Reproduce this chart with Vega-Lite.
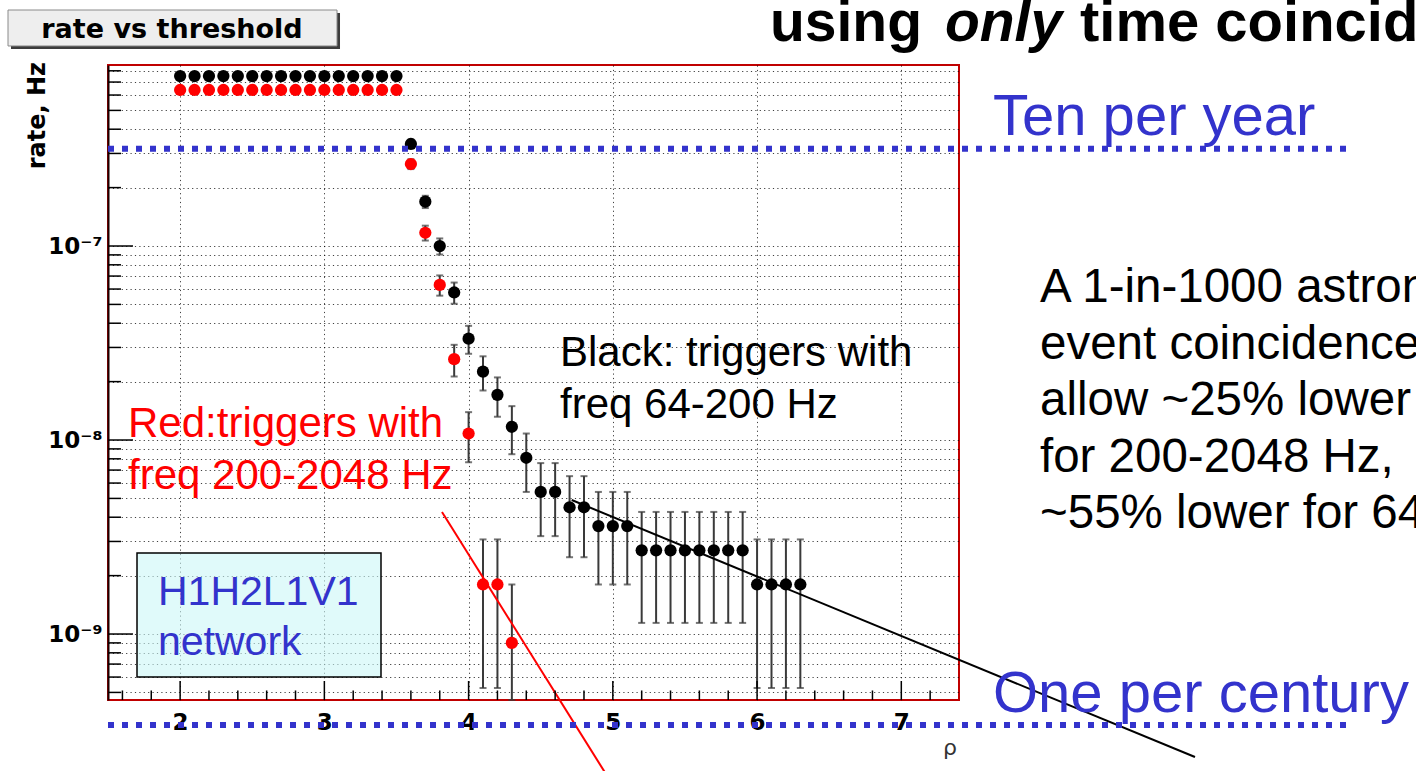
{
  "$schema": "https://vega.github.io/schema/vega-lite/v6.json",
  "width": 851,
  "height": 635,
  "autosize": {"type": "none"},
  "padding": {"left": 108, "top": 65, "right": 457, "bottom": 71},
  "background": "#ffffff",
  "config": {
    "view": {"stroke": "#c00000", "strokeWidth": 2},
    "axis": {
      "ticks": false,
      "domain": false,
      "grid": true,
      "gridColor": "#000000",
      "gridDash": [1.2, 3.2],
      "gridOpacity": 0.75,
      "gridWidth": 1,
      "labelFont": "DejaVu Sans",
      "labelFontWeight": "bold",
      "labelColor": "#000000"
    }
  },
  "datasets": {
    "one": [{}],
    "rates": [
      {"rho": 2.0, "rate": 7.515e-7, "lo": 7.255e-7, "hi": 7.775e-7, "band": "64-200 Hz"},
      {"rho": 2.1, "rate": 7.515e-7, "lo": 7.255e-7, "hi": 7.775e-7, "band": "64-200 Hz"},
      {"rho": 2.2, "rate": 7.515e-7, "lo": 7.255e-7, "hi": 7.775e-7, "band": "64-200 Hz"},
      {"rho": 2.3, "rate": 7.515e-7, "lo": 7.255e-7, "hi": 7.775e-7, "band": "64-200 Hz"},
      {"rho": 2.4, "rate": 7.515e-7, "lo": 7.255e-7, "hi": 7.775e-7, "band": "64-200 Hz"},
      {"rho": 2.5, "rate": 7.515e-7, "lo": 7.255e-7, "hi": 7.775e-7, "band": "64-200 Hz"},
      {"rho": 2.6, "rate": 7.515e-7, "lo": 7.255e-7, "hi": 7.775e-7, "band": "64-200 Hz"},
      {"rho": 2.7, "rate": 7.515e-7, "lo": 7.255e-7, "hi": 7.775e-7, "band": "64-200 Hz"},
      {"rho": 2.8, "rate": 7.515e-7, "lo": 7.255e-7, "hi": 7.775e-7, "band": "64-200 Hz"},
      {"rho": 2.9, "rate": 7.515e-7, "lo": 7.255e-7, "hi": 7.775e-7, "band": "64-200 Hz"},
      {"rho": 3.0, "rate": 7.515e-7, "lo": 7.255e-7, "hi": 7.775e-7, "band": "64-200 Hz"},
      {"rho": 3.1, "rate": 7.515e-7, "lo": 7.255e-7, "hi": 7.775e-7, "band": "64-200 Hz"},
      {"rho": 3.2, "rate": 7.515e-7, "lo": 7.255e-7, "hi": 7.775e-7, "band": "64-200 Hz"},
      {"rho": 3.3, "rate": 7.515e-7, "lo": 7.255e-7, "hi": 7.775e-7, "band": "64-200 Hz"},
      {"rho": 3.4, "rate": 7.515e-7, "lo": 7.255e-7, "hi": 7.775e-7, "band": "64-200 Hz"},
      {"rho": 3.5, "rate": 7.515e-7, "lo": 7.255e-7, "hi": 7.775e-7, "band": "64-200 Hz"},
      {"rho": 3.6, "rate": 3.357e-7, "lo": 3.183e-7, "hi": 3.531e-7, "band": "64-200 Hz"},
      {"rho": 3.7, "rate": 1.692e-7, "lo": 1.569e-7, "hi": 1.815e-7, "band": "64-200 Hz"},
      {"rho": 3.8, "rate": 9.99e-8, "lo": 9.04e-8, "hi": 1.094e-7, "band": "64-200 Hz"},
      {"rho": 3.9, "rate": 5.76e-8, "lo": 5.04e-8, "hi": 6.48e-8, "band": "64-200 Hz"},
      {"rho": 4.0, "rate": 3.33e-8, "lo": 2.783e-8, "hi": 3.877e-8, "band": "64-200 Hz"},
      {"rho": 4.1, "rate": 2.25e-8, "lo": 1.8e-8, "hi": 2.7e-8, "band": "64-200 Hz"},
      {"rho": 4.2, "rate": 1.71e-8, "lo": 1.318e-8, "hi": 2.102e-8, "band": "64-200 Hz"},
      {"rho": 4.3, "rate": 1.17e-8, "lo": 8.45e-9, "hi": 1.495e-8, "band": "64-200 Hz"},
      {"rho": 4.4, "rate": 8.1e-9, "lo": 5.4e-9, "hi": 1.08e-8, "band": "64-200 Hz"},
      {"rho": 4.5, "rate": 5.4e-9, "lo": 3.196e-9, "hi": 7.604e-9, "band": "64-200 Hz"},
      {"rho": 4.6, "rate": 5.4e-9, "lo": 3.196e-9, "hi": 7.604e-9, "band": "64-200 Hz"},
      {"rho": 4.7, "rate": 4.5e-9, "lo": 2.488e-9, "hi": 6.512e-9, "band": "64-200 Hz"},
      {"rho": 4.8, "rate": 4.5e-9, "lo": 2.488e-9, "hi": 6.512e-9, "band": "64-200 Hz"},
      {"rho": 4.9, "rate": 3.6e-9, "lo": 1.8e-9, "hi": 5.4e-9, "band": "64-200 Hz"},
      {"rho": 5.0, "rate": 3.6e-9, "lo": 1.8e-9, "hi": 5.4e-9, "band": "64-200 Hz"},
      {"rho": 5.1, "rate": 3.6e-9, "lo": 1.8e-9, "hi": 5.4e-9, "band": "64-200 Hz"},
      {"rho": 5.2, "rate": 2.7e-9, "lo": 1.141e-9, "hi": 4.259e-9, "band": "64-200 Hz"},
      {"rho": 5.3, "rate": 2.7e-9, "lo": 1.141e-9, "hi": 4.259e-9, "band": "64-200 Hz"},
      {"rho": 5.4, "rate": 2.7e-9, "lo": 1.141e-9, "hi": 4.259e-9, "band": "64-200 Hz"},
      {"rho": 5.5, "rate": 2.7e-9, "lo": 1.141e-9, "hi": 4.259e-9, "band": "64-200 Hz"},
      {"rho": 5.6, "rate": 2.7e-9, "lo": 1.141e-9, "hi": 4.259e-9, "band": "64-200 Hz"},
      {"rho": 5.7, "rate": 2.7e-9, "lo": 1.141e-9, "hi": 4.259e-9, "band": "64-200 Hz"},
      {"rho": 5.8, "rate": 2.7e-9, "lo": 1.141e-9, "hi": 4.259e-9, "band": "64-200 Hz"},
      {"rho": 5.9, "rate": 2.7e-9, "lo": 1.141e-9, "hi": 4.259e-9, "band": "64-200 Hz"},
      {"rho": 6.0, "rate": 1.8e-9, "lo": 5.27e-10, "hi": 3.073e-9, "band": "64-200 Hz"},
      {"rho": 6.1, "rate": 1.8e-9, "lo": 5.27e-10, "hi": 3.073e-9, "band": "64-200 Hz"},
      {"rho": 6.2, "rate": 1.8e-9, "lo": 5.27e-10, "hi": 3.073e-9, "band": "64-200 Hz"},
      {"rho": 6.3, "rate": 1.8e-9, "lo": 5.27e-10, "hi": 3.073e-9, "band": "64-200 Hz"},
      {"rho": 2.0, "rate": 6.372e-7, "lo": 6.133e-7, "hi": 6.611e-7, "band": "200-2048 Hz"},
      {"rho": 2.1, "rate": 6.372e-7, "lo": 6.133e-7, "hi": 6.611e-7, "band": "200-2048 Hz"},
      {"rho": 2.2, "rate": 6.372e-7, "lo": 6.133e-7, "hi": 6.611e-7, "band": "200-2048 Hz"},
      {"rho": 2.3, "rate": 6.372e-7, "lo": 6.133e-7, "hi": 6.611e-7, "band": "200-2048 Hz"},
      {"rho": 2.4, "rate": 6.372e-7, "lo": 6.133e-7, "hi": 6.611e-7, "band": "200-2048 Hz"},
      {"rho": 2.5, "rate": 6.372e-7, "lo": 6.133e-7, "hi": 6.611e-7, "band": "200-2048 Hz"},
      {"rho": 2.6, "rate": 6.372e-7, "lo": 6.133e-7, "hi": 6.611e-7, "band": "200-2048 Hz"},
      {"rho": 2.7, "rate": 6.372e-7, "lo": 6.133e-7, "hi": 6.611e-7, "band": "200-2048 Hz"},
      {"rho": 2.8, "rate": 6.372e-7, "lo": 6.133e-7, "hi": 6.611e-7, "band": "200-2048 Hz"},
      {"rho": 2.9, "rate": 6.372e-7, "lo": 6.133e-7, "hi": 6.611e-7, "band": "200-2048 Hz"},
      {"rho": 3.0, "rate": 6.372e-7, "lo": 6.133e-7, "hi": 6.611e-7, "band": "200-2048 Hz"},
      {"rho": 3.1, "rate": 6.372e-7, "lo": 6.133e-7, "hi": 6.611e-7, "band": "200-2048 Hz"},
      {"rho": 3.2, "rate": 6.372e-7, "lo": 6.133e-7, "hi": 6.611e-7, "band": "200-2048 Hz"},
      {"rho": 3.3, "rate": 6.372e-7, "lo": 6.133e-7, "hi": 6.611e-7, "band": "200-2048 Hz"},
      {"rho": 3.4, "rate": 6.372e-7, "lo": 6.133e-7, "hi": 6.611e-7, "band": "200-2048 Hz"},
      {"rho": 3.5, "rate": 6.372e-7, "lo": 6.133e-7, "hi": 6.611e-7, "band": "200-2048 Hz"},
      {"rho": 3.6, "rate": 2.646e-7, "lo": 2.492e-7, "hi": 2.8e-7, "band": "200-2048 Hz"},
      {"rho": 3.7, "rate": 1.17e-7, "lo": 1.067e-7, "hi": 1.273e-7, "band": "200-2048 Hz"},
      {"rho": 3.8, "rate": 6.3e-8, "lo": 5.547e-8, "hi": 7.053e-8, "band": "200-2048 Hz"},
      {"rho": 3.9, "rate": 2.61e-8, "lo": 2.125e-8, "hi": 3.095e-8, "band": "200-2048 Hz"},
      {"rho": 4.0, "rate": 1.08e-8, "lo": 7.68e-9, "hi": 1.392e-8, "band": "200-2048 Hz"},
      {"rho": 4.1, "rate": 1.8e-9, "lo": 5.27e-10, "hi": 3.073e-9, "band": "200-2048 Hz"},
      {"rho": 4.2, "rate": 1.8e-9, "lo": 5.27e-10, "hi": 3.073e-9, "band": "200-2048 Hz"},
      {"rho": 4.3, "rate": 9.0e-10, "lo": 4.57e-10, "hi": 1.8e-9, "band": "200-2048 Hz"}
    ],
    "fits": [
      {"rho": 4.7148, "rate": 4.905e-9, "band": "64-200 Hz"},
      {"rho": 9.036, "rate": 2.323e-10, "band": "64-200 Hz"},
      {"rho": 3.8156, "rate": 4.256e-9, "band": "200-2048 Hz"},
      {"rho": 4.9526, "rate": 1.898e-10, "band": "200-2048 Hz"}
    ],
    "yMinorTicks": [
      {"v": 5e-10}, {"v": 6e-10}, {"v": 7e-10}, {"v": 8e-10}, {"v": 9e-10},
      {"v": 2e-9}, {"v": 3e-9}, {"v": 4e-9}, {"v": 5e-9}, {"v": 6e-9}, {"v": 7e-9}, {"v": 8e-9}, {"v": 9e-9},
      {"v": 2e-8}, {"v": 3e-8}, {"v": 4e-8}, {"v": 5e-8}, {"v": 6e-8}, {"v": 7e-8}, {"v": 8e-8}, {"v": 9e-8},
      {"v": 2e-7}, {"v": 3e-7}, {"v": 4e-7}, {"v": 5e-7}, {"v": 6e-7}, {"v": 7e-7}, {"v": 8e-7}
    ],
    "yMajorTicks": [{"v": 1e-9}, {"v": 1e-8}, {"v": 1e-7}],
    "xMinorTicks": [
      {"v": 1.6}, {"v": 1.8}, {"v": 2.2}, {"v": 2.4}, {"v": 2.6}, {"v": 2.8},
      {"v": 3.2}, {"v": 3.4}, {"v": 3.6}, {"v": 3.8}, {"v": 4.2}, {"v": 4.4}, {"v": 4.6}, {"v": 4.8},
      {"v": 5.2}, {"v": 5.4}, {"v": 5.6}, {"v": 5.8}, {"v": 6.2}, {"v": 6.4}, {"v": 6.6}, {"v": 6.8}, {"v": 7.2}
    ],
    "xMajorTicks": [{"v": 2}, {"v": 3}, {"v": 4}, {"v": 5}, {"v": 6}, {"v": 7}]
  },
  "layer": [
    {
      "data": {"name": "rates"},
      "mark": {"type": "rule", "color": "#3a3a3a", "strokeWidth": 2},
      "encoding": {
        "x": {
          "field": "rho", "type": "quantitative",
          "scale": {"domain": [1.5, 7.4], "nice": false, "zero": false},
          "axis": {"values": [2, 3, 4, 5, 6, 7], "title": null, "labelFontSize": 23, "labelPadding": 11, "format": "d"}
        },
        "y": {
          "field": "lo", "type": "quantitative",
          "scale": {"type": "log", "domain": [4.57e-10, 8.57e-7], "nice": false},
          "axis": {
            "title": null,
            "values": [5e-10, 6e-10, 7e-10, 8e-10, 9e-10, 1e-9, 2e-9, 3e-9, 4e-9, 5e-9, 6e-9, 7e-9, 8e-9, 9e-9, 1e-8, 2e-8, 3e-8, 4e-8, 5e-8, 6e-8, 7e-8, 8e-8, 9e-8, 1e-7, 2e-7, 3e-7, 4e-7, 5e-7, 6e-7, 7e-7, 8e-7],
            "labelExpr": "datum.value == 1e-9 ? '10⁻⁹' : datum.value == 1e-8 ? '10⁻⁸' : datum.value == 1e-7 ? '10⁻⁷' : ''",
            "labelFontSize": 23,
            "labelPadding": 6,
            "domain": true,
            "domainColor": "#1a0000",
            "domainWidth": 2
          }
        },
        "y2": {"field": "hi"}
      }
    },
    {
      "data": {"name": "rates"},
      "mark": {"type": "tick", "orient": "horizontal", "size": 7, "thickness": 2, "color": "#3a3a3a"},
      "encoding": {
        "x": {"field": "rho", "type": "quantitative"},
        "y": {"field": "lo", "type": "quantitative"}
      }
    },
    {
      "data": {"name": "rates"},
      "mark": {"type": "tick", "orient": "horizontal", "size": 7, "thickness": 2, "color": "#3a3a3a"},
      "encoding": {
        "x": {"field": "rho", "type": "quantitative"},
        "y": {"field": "hi", "type": "quantitative"}
      }
    },
    {
      "data": {"name": "one"},
      "mark": {"type": "rect", "fill": "#cbf7f7", "fillOpacity": 0.6, "stroke": "#000000", "strokeWidth": 1.5},
      "encoding": {
        "x": {"datum": 1.7011}, "x2": {"datum": 3.3927},
        "y": {"datum": 2.615e-9}, "y2": {"datum": 6.004e-10}
      }
    },
    {
      "data": {"name": "rates"},
      "mark": {"type": "point", "filled": true, "opacity": 1, "size": 150},
      "encoding": {
        "x": {"field": "rho", "type": "quantitative"},
        "y": {"field": "rate", "type": "quantitative"},
        "color": {
          "field": "band", "type": "nominal",
          "scale": {"domain": ["64-200 Hz", "200-2048 Hz"], "range": ["#000000", "#ff0000"]},
          "legend": null
        }
      }
    },
    {
      "data": {"name": "fits"},
      "mark": {"type": "line", "strokeWidth": 2},
      "encoding": {
        "x": {"field": "rho", "type": "quantitative"},
        "y": {"field": "rate", "type": "quantitative"},
        "detail": {"field": "band"},
        "color": {"field": "band", "type": "nominal", "legend": null}
      }
    },
    {
      "data": {"name": "yMinorTicks"},
      "mark": {"type": "rule", "color": "#000000", "strokeWidth": 1.5},
      "encoding": {
        "y": {"field": "v", "type": "quantitative"},
        "x": {"datum": 1.5}, "x2": {"datum": 1.5901}
      }
    },
    {
      "data": {"name": "yMajorTicks"},
      "mark": {"type": "rule", "color": "#000000", "strokeWidth": 1.5},
      "encoding": {
        "y": {"field": "v", "type": "quantitative"},
        "x": {"datum": 1.5}, "x2": {"datum": 1.6733}
      }
    },
    {
      "data": {"name": "xMinorTicks"},
      "mark": {"type": "rule", "color": "#000000", "strokeWidth": 1.5},
      "encoding": {
        "x": {"field": "v", "type": "quantitative"},
        "y": {"datum": 4.57e-10}, "y2": {"datum": 5.117e-10}
      }
    },
    {
      "data": {"name": "xMajorTicks"},
      "mark": {"type": "rule", "color": "#000000", "strokeWidth": 1.5},
      "encoding": {
        "x": {"field": "v", "type": "quantitative"},
        "y": {"datum": 4.57e-10}, "y2": {"datum": 5.726e-10}
      }
    },
    {
      "data": {"name": "one"},
      "mark": {"type": "rule", "color": "#3333cc", "strokeWidth": 6, "strokeDash": [6, 8]},
      "encoding": {"x": {"datum": 1.5}, "x2": {"datum": 10.11}, "y": {"datum": 3.17e-7}}
    },
    {
      "data": {"name": "one"},
      "mark": {"type": "rule", "color": "#3333cc", "strokeWidth": 6, "strokeDash": [6, 8]},
      "encoding": {"x": {"datum": 1.5}, "x2": {"datum": 10.097}, "y": {"datum": 3.4e-10}}
    },
    {
      "data": {"name": "one"},
      "mark": {"type": "text", "text": "Ten per year", "font": "Liberation Sans", "fontSize": 58, "color": "#3333cc", "align": "left", "baseline": "alphabetic"},
      "encoding": {"x": {"datum": 7.6357}, "y": {"datum": 3.735e-7}}
    },
    {
      "data": {"name": "one"},
      "mark": {"type": "text", "text": "One per century", "font": "Liberation Sans", "fontSize": 58, "color": "#3333cc", "align": "left", "baseline": "alphabetic"},
      "encoding": {"x": {"datum": 7.6357}, "y": {"datum": 3.963e-10}}
    },
    {
      "data": {"name": "one"},
      "mark": {"type": "text", "text": "using", "font": "Liberation Sans", "fontSize": 57, "fontWeight": "bold", "color": "#000000", "align": "left", "baseline": "alphabetic"},
      "encoding": {"x": {"datum": 6.0896}, "y": {"datum": 1.14e-6}}
    },
    {
      "data": {"name": "one"},
      "mark": {"type": "text", "text": "only", "font": "Liberation Sans", "fontSize": 57, "fontWeight": "bold", "fontStyle": "italic", "color": "#000000", "align": "left", "baseline": "alphabetic"},
      "encoding": {"x": {"datum": 7.3028}, "y": {"datum": 1.14e-6}}
    },
    {
      "data": {"name": "one"},
      "mark": {"type": "text", "text": "time coincidence", "font": "Liberation Sans", "fontSize": 58, "fontWeight": "bold", "color": "#000000", "align": "left", "baseline": "alphabetic"},
      "encoding": {"x": {"datum": 8.2387}, "y": {"datum": 1.14e-6}}
    },
    {
      "data": {"name": "one"},
      "mark": {
        "type": "text",
        "text": ["A 1-in-1000 astronomical", "event coincidence would", "allow ~25% lower threshold", "for 200-2048 Hz,", "~55% lower for 64-200 Hz"],
        "font": "Liberation Sans", "fontSize": 47.5, "lineHeight": 56.5, "color": "#000000", "align": "left", "baseline": "alphabetic"
      },
      "encoding": {"x": {"datum": 7.9615}, "y": {"datum": 5.144e-8}}
    },
    {
      "data": {"name": "one"},
      "mark": {"type": "text", "text": ["Black: triggers with", "freq 64-200 Hz"], "font": "Liberation Sans", "fontSize": 42, "lineHeight": 52, "color": "#000000", "align": "left", "baseline": "alphabetic"},
      "encoding": {"x": {"datum": 4.6337}, "y": {"datum": 2.406e-8}}
    },
    {
      "data": {"name": "one"},
      "mark": {"type": "text", "text": ["Red:triggers with", "freq 200-2048 Hz"], "font": "Liberation Sans", "fontSize": 42, "lineHeight": 52, "color": "#ff0000", "align": "left", "baseline": "alphabetic"},
      "encoding": {"x": {"datum": 1.6387}, "y": {"datum": 1.036e-8}}
    },
    {
      "data": {"name": "one"},
      "mark": {"type": "text", "text": ["H1H2L1V1", "network"], "font": "Liberation Sans", "fontSize": 41, "lineHeight": 50, "color": "#3333cc", "align": "left", "baseline": "alphabetic"},
      "encoding": {"x": {"datum": 1.8466}, "y": {"datum": 1.411e-9}}
    },
    {
      "data": {"name": "one"},
      "mark": {"type": "text", "text": "ρ", "font": "DejaVu Sans", "fontSize": 22, "color": "#333333", "align": "center", "baseline": "middle"},
      "encoding": {"x": {"datum": 7.3375}, "y": {"datum": 2.585e-10}}
    },
    {
      "data": {"name": "one"},
      "mark": {"type": "text", "text": "rate, Hz", "font": "DejaVu Sans", "fontSize": 24, "fontWeight": "bold", "color": "#000000", "angle": 270, "align": "right", "baseline": "middle"},
      "encoding": {"x": {"datum": 1.0147}, "y": {"datum": 8.88e-7}}
    },
    {
      "data": {"name": "one"},
      "mark": {"type": "rect", "fill": "#3c3c3c"},
      "encoding": {"x": {"datum": 0.8275}, "x2": {"datum": 3.1085}, "y": {"datum": 1.589e-6}, "y2": {"datum": 1.036e-6}}
    },
    {
      "data": {"name": "one"},
      "mark": {"type": "rect", "fill": "#eeeeee", "stroke": "#8a8a8a", "strokeWidth": 1},
      "encoding": {"x": {"datum": 0.8067}, "x2": {"datum": 3.0877}, "y": {"datum": 1.646e-6}, "y2": {"datum": 1.074e-6}}
    },
    {
      "data": {"name": "one"},
      "mark": {"type": "text", "text": "rate vs threshold", "font": "DejaVu Sans", "fontSize": 27, "fontWeight": "bold", "color": "#000000", "align": "center", "baseline": "middle"},
      "encoding": {"x": {"datum": 1.9437}, "y": {"datum": 1.298e-6}}
    }
  ]
}
